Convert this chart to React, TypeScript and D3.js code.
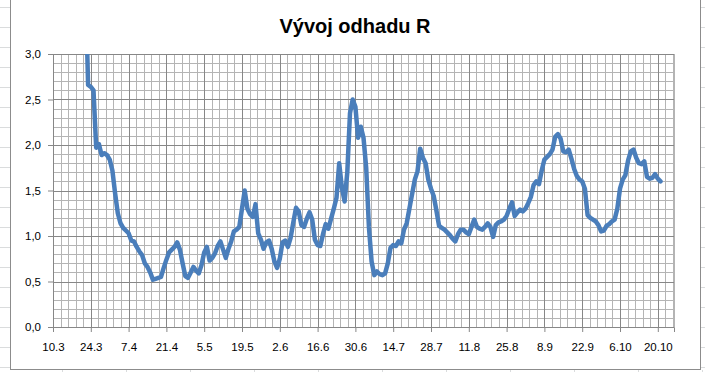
import React, { useEffect, useRef } from 'react';
import * as d3 from 'd3';

// axis range and ticks
const startDate = new Date(2020, 2, 10);
const endDate = new Date(2020, 9, 26);
const xTickLabels = ['10.3', '24.3', '7.4', '21.4', '5.5', '19.5', '2.6', '16.6', '30.6', '14.7', '28.7', '11.8', '25.8', '8.9', '22.9', '6.10', '20.10'];
const yTickLabels = ['0,0', '0,5', '1,0', '1,5', '2,0', '2,5', '3,0'];

// daily R estimate, first value on 22.3.2020
const firstDay = new Date(2020, 2, 22);
const rValues = [
  3.8, 2.66, 2.64, 2.6, 1.97, 2.01, 1.89, 1.91, 1.89, 1.84,
  1.72, 1.47, 1.25, 1.14, 1.09, 1.06, 1.03, 0.95, 0.94, 0.88,
  0.83, 0.79, 0.7, 0.66, 0.6, 0.52, 0.53, 0.54, 0.55, 0.65,
  0.74, 0.82, 0.85, 0.88, 0.93, 0.85, 0.7, 0.56, 0.54, 0.6,
  0.66, 0.62, 0.59, 0.68, 0.82, 0.88, 0.73, 0.76, 0.81, 0.89,
  0.94, 0.85, 0.76, 0.86, 0.94, 1.05, 1.07, 1.1, 1.3, 1.5,
  1.3, 1.24, 1.21, 1.35, 1.03, 0.96, 0.86, 0.93, 0.95, 0.86,
  0.72, 0.65, 0.75, 0.93, 0.95, 0.88, 0.98, 1.15, 1.31, 1.27,
  1.12, 1.1, 1.19, 1.26, 1.18, 0.96, 0.9, 0.89, 1.02, 1.13,
  1.08, 1.19, 1.3, 1.42, 1.8, 1.53, 1.38, 1.7, 2.35, 2.5,
  2.42, 2.08, 2.2, 2.08, 1.75, 1.1, 0.72, 0.57, 0.61, 0.58,
  0.57, 0.59, 0.7, 0.87, 0.9, 0.89, 0.94, 0.92, 1.07, 1.14,
  1.3, 1.46, 1.62, 1.71, 1.96, 1.86, 1.8, 1.62, 1.52, 1.44,
  1.28, 1.11, 1.09, 1.07, 1.04, 1.01, 0.97, 0.94, 1.02, 1.07,
  1.07, 1.04, 1.02, 1.1, 1.18, 1.1, 1.08, 1.07, 1.1, 1.14,
  1.1, 0.99, 1.12, 1.15, 1.16, 1.18, 1.22, 1.3, 1.37, 1.22,
  1.26, 1.29, 1.27, 1.3, 1.36, 1.43, 1.56, 1.6, 1.57, 1.72,
  1.84, 1.87, 1.9, 1.95, 2.09, 2.12, 2.07, 1.93, 1.92, 1.95,
  1.85, 1.74, 1.66, 1.62, 1.6, 1.52, 1.23, 1.2, 1.18, 1.16,
  1.12, 1.05, 1.06, 1.11, 1.13, 1.16, 1.18, 1.3, 1.52, 1.62,
  1.67, 1.83, 1.93, 1.95, 1.86, 1.8, 1.79, 1.82, 1.65, 1.63,
  1.64, 1.68, 1.63, 1.6,
];

const W = 705;
const H = 372;
const plot = { left: 53, right: 674, top: 54, bottom: 327 };

const App = () => {
  const svgRef = useRef<SVGSVGElement>(null);

  useEffect(() => {
    const svg = d3.select(svgRef.current);
    svg.selectAll('*').remove();

    const x = d3.scaleTime().domain([startDate, endDate]).range([plot.left, plot.right]);
    const y = d3.scaleLinear().domain([0, 3]).range([plot.bottom, plot.top]);

    // spreadsheet cells around the chart
    const cells = svg.append('g').attr('stroke', '#dadcdd').attr('stroke-width', 1);
    d3.range(7, H, 20).forEach((yy) => {
      cells.append('line').attr('x1', 0).attr('x2', 10).attr('y1', yy + 0.5).attr('y2', yy + 0.5);
      cells.append('line').attr('x1', 701).attr('x2', W).attr('y1', yy + 0.5).attr('y2', yy + 0.5);
    });
    d3.range(62, W, 64).forEach((xx) => {
      cells.append('line').attr('x1', xx + 0.5).attr('x2', xx + 0.5).attr('y1', 370).attr('y2', H);
    });

    // chart frame
    svg.append('rect')
      .attr('x', 10.5).attr('y', -5).attr('width', 690).attr('height', 374.5)
      .attr('fill', 'white').attr('stroke', '#8c8c8c');

    svg.append('text')
      .attr('x', 355).attr('y', 33)
      .attr('text-anchor', 'middle')
      .attr('font-family', 'Liberation Sans, Arial, sans-serif')
      .attr('font-weight', 'bold').attr('font-size', 20)
      .attr('fill', '#000')
      .text('Vývoj odhadu R');

    const dayMs = 24 * 3600 * 1000;
    const minorStep = 14 / 5;
    const totalDays = (endDate.getTime() - startDate.getTime()) / dayMs;

    // minor grid
    const grid = svg.append('g').attr('shape-rendering', 'crispEdges');
    d3.range(0, totalDays + 0.01, minorStep).forEach((d, i) => {
      if (i % 5 === 0) return;
      const xx = Math.round(x(new Date(startDate.getTime() + d * dayMs)));
      grid.append('line').attr('x1', xx).attr('x2', xx).attr('y1', plot.top).attr('y2', plot.bottom)
        .attr('stroke', '#b4b4b4');
    });
    d3.range(0, 30).forEach((i) => {
      if (i % 5 === 0) return;
      const yy = Math.round(y(i / 10));
      grid.append('line').attr('x1', plot.left).attr('x2', plot.right).attr('y1', yy).attr('y2', yy)
        .attr('stroke', '#b4b4b4');
    });

    // major grid
    const xTicks = xTickLabels.map((_, i) => new Date(startDate.getTime() + i * 14 * dayMs));
    xTicks.forEach((t) => {
      const xx = Math.round(x(t));
      grid.append('line').attr('x1', xx).attr('x2', xx).attr('y1', plot.top).attr('y2', plot.bottom)
        .attr('stroke', '#878787');
    });
    yTickLabels.forEach((_, i) => {
      const yy = Math.round(y(i * 0.5));
      grid.append('line').attr('x1', plot.left).attr('x2', plot.right).attr('y1', yy).attr('y2', yy)
        .attr('stroke', '#878787');
    });
    grid.append('line').attr('x1', plot.right).attr('x2', plot.right).attr('y1', plot.top).attr('y2', plot.bottom)
      .attr('stroke', '#b4b4b4');

    // axes
    const xAxis = d3.axisBottom(x)
      .tickValues(xTicks)
      .tickFormat((_, i) => xTickLabels[i])
      .tickSize(5).tickPadding(11);
    const gx = svg.append('g').attr('transform', `translate(0,${plot.bottom})`).call(xAxis);
    const yAxis = d3.axisLeft(y)
      .tickValues(d3.range(0, 3.01, 0.5))
      .tickFormat((_, i) => yTickLabels[i])
      .tickSize(5).tickPadding(7);
    const gy = svg.append('g').attr('transform', `translate(${plot.left},0)`).call(yAxis);
    [gx, gy].forEach((g) => {
      g.select('.domain').attr('stroke', '#878787');
      g.selectAll('.tick line').attr('stroke', '#878787');
      g.selectAll('.tick text')
        .attr('font-family', 'Liberation Sans, Arial, sans-serif')
        .attr('font-size', 11.5).attr('fill', '#000');
    });

    // series
    svg.append('clipPath').attr('id', 'plotClip')
      .append('rect').attr('x', plot.left).attr('y', plot.top)
      .attr('width', plot.right - plot.left).attr('height', plot.bottom - plot.top);

    const data = rValues.map((v, i) => ({ date: new Date(firstDay.getTime() + i * dayMs), v }));
    const line = d3.line<{ date: Date; v: number }>()
      .x((d) => x(d.date))
      .y((d) => y(d.v));

    svg.append('path')
      .datum(data)
      .attr('clip-path', 'url(#plotClip)')
      .attr('d', line)
      .attr('fill', 'none')
      .attr('stroke', '#4a7ebb')
      .attr('stroke-width', 4.5)
      .attr('stroke-linejoin', 'round')
      .attr('stroke-linecap', 'round');
  }, []);

  return (
    <svg ref={svgRef} width={W} height={H}
      style={{ position: 'absolute', left: 0, top: 0, background: 'white' }} />
  );
};

export default App;
